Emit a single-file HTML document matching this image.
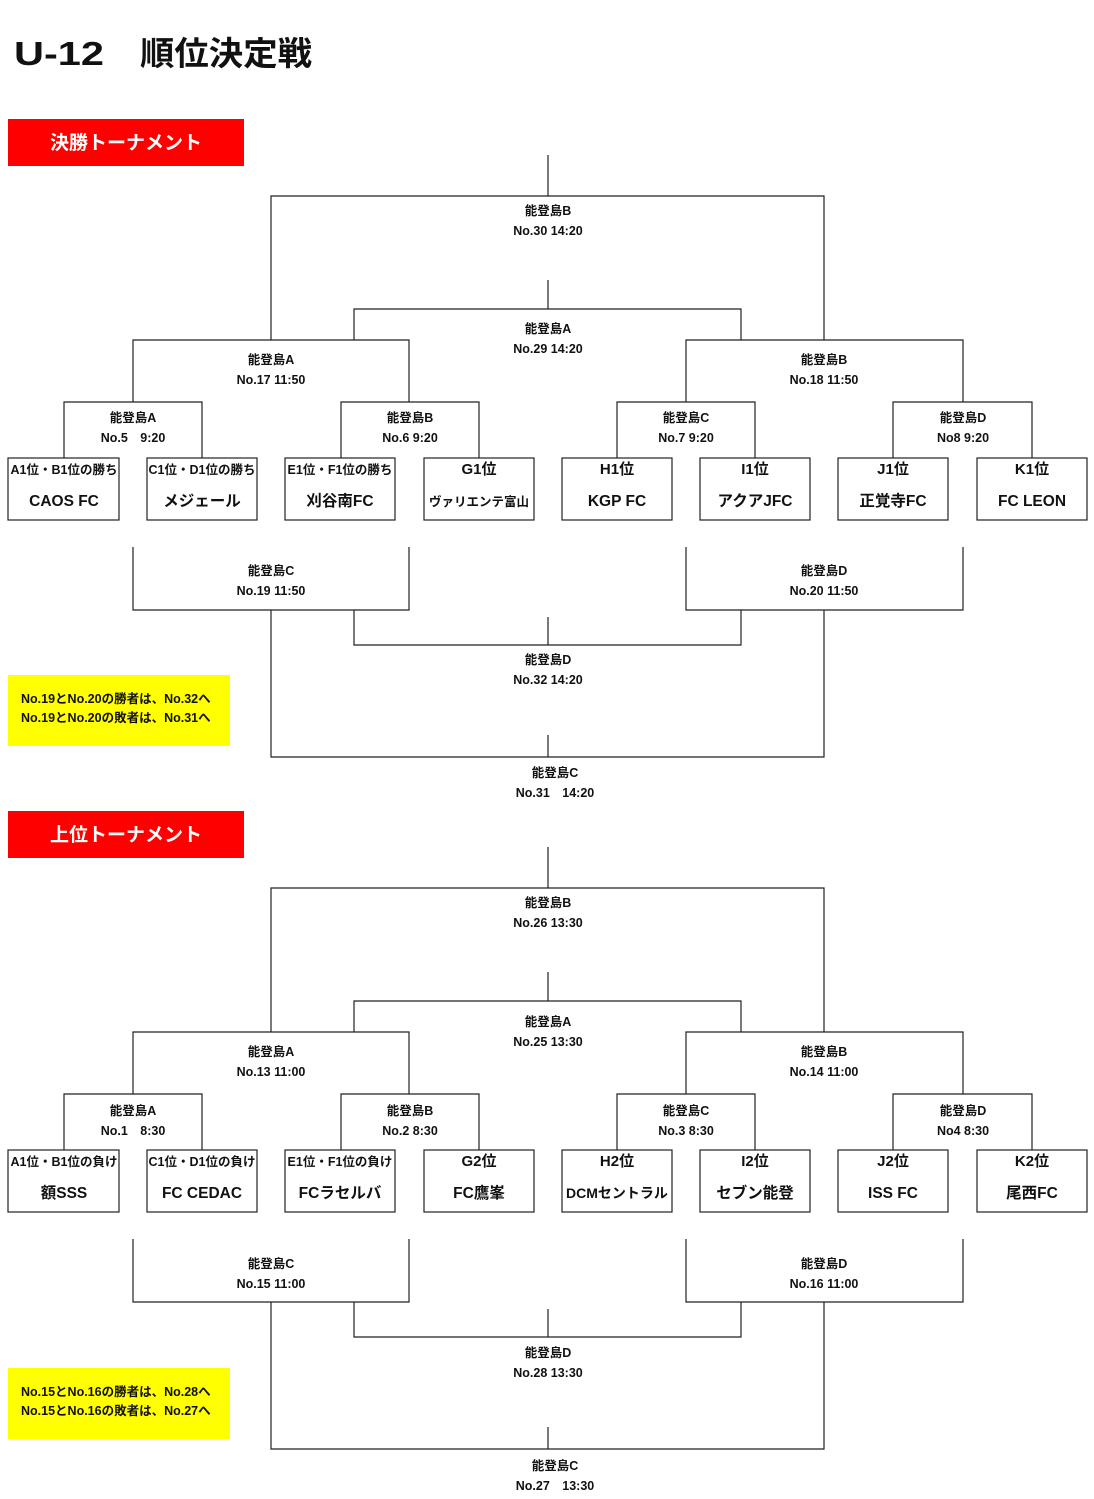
<!DOCTYPE html>
<html><head><meta charset="utf-8"><style>
body{margin:0;background:#fff;}
svg{display:block;font-family:"Liberation Sans","Noto Sans CJK JP",sans-serif;}
.l{stroke:#222;stroke-width:1.2;fill:none}
.t{font-size:12.5px;font-weight:bold;text-anchor:middle;fill:#111}
.h{font-size:15px;font-weight:bold;text-anchor:middle;fill:#111}
.s{font-size:12.5px;font-weight:bold;text-anchor:middle;fill:#111}
.n{font-size:15.5px;font-weight:bold;text-anchor:middle;fill:#111}
.y{font-size:12.5px;font-weight:bold;fill:#111}
</style></head><body>
<svg width="1094" height="1499" viewBox="0 0 1094 1499">
<text x="14" y="65" style="font-size:33px;font-weight:bold" fill="#111" textLength="90" lengthAdjust="spacingAndGlyphs">U-12</text>
<text x="140" y="65" style="font-size:33px;font-weight:bold" fill="#111" textLength="172" lengthAdjust="spacingAndGlyphs">順位決定戦</text>

<!-- Section 1 -->
<g>
<rect x="8" y="119" width="236" height="47" fill="#ff0000"/>
<text x="126" y="149" style="font-size:19px;font-weight:bold;text-anchor:middle" fill="#fff">決勝トーナメント</text>
<path class="l" d="M548 155V196 M271 340V196H824V340 M548 280V309 M354 340V309H741V340
M133 402V340H409V402 M686 402V340H963V402
M64 458V402H202V458 M341 458V402H479V458 M617 458V402H755V458 M893 458V402H1032V458
M133 547V610H409V547 M686 547V610H963V547 M271 610V757H824V610 M354 610V645H741V610 M548 617V645 M548 735V757"/>
<g class="l">
<rect x="8" y="458" width="111" height="62"/><rect x="147" y="458" width="110" height="62"/>
<rect x="285" y="458" width="110" height="62"/><rect x="424" y="458" width="110" height="62"/>
<rect x="562" y="458" width="110" height="62"/><rect x="700" y="458" width="110" height="62"/>
<rect x="838" y="458" width="110" height="62"/><rect x="977" y="458" width="110" height="62"/>
</g>
<text class="t" x="548" y="215">能登島B</text><text class="t" x="548" y="235">No.30 14:20</text>
<text class="t" x="548" y="333">能登島A</text><text class="t" x="548" y="353">No.29 14:20</text>
<text class="t" x="271" y="364">能登島A</text><text class="t" x="271" y="384">No.17 11:50</text>
<text class="t" x="824" y="364">能登島B</text><text class="t" x="824" y="384">No.18 11:50</text>
<text class="t" x="133" y="422">能登島A</text><text class="t" x="133" y="442">No.5　9:20</text>
<text class="t" x="410" y="422">能登島B</text><text class="t" x="410" y="442">No.6 9:20</text>
<text class="t" x="686" y="422">能登島C</text><text class="t" x="686" y="442">No.7 9:20</text>
<text class="t" x="963" y="422">能登島D</text><text class="t" x="963" y="442">No8 9:20</text>
<text class="s" x="64" y="474">A1位・B1位の勝ち</text><text class="n" x="64" y="506">CAOS FC</text>
<text class="s" x="202" y="474">C1位・D1位の勝ち</text><text class="n" x="202" y="506">メジェール</text>
<text class="s" x="340" y="474">E1位・F1位の勝ち</text><text class="n" x="340" y="506">刈谷南FC</text>
<text class="h" x="479" y="474">G1位</text><text class="s" x="479" y="506">ヴァリエンテ富山</text>
<text class="h" x="617" y="474">H1位</text><text class="n" x="617" y="506">KGP FC</text>
<text class="h" x="755" y="474">I1位</text><text class="n" x="755" y="506">アクアJFC</text>
<text class="h" x="893" y="474">J1位</text><text class="n" x="893" y="506">正覚寺FC</text>
<text class="h" x="1032" y="474">K1位</text><text class="n" x="1032" y="506">FC LEON</text>
<text class="t" x="271" y="575">能登島C</text><text class="t" x="271" y="595">No.19 11:50</text>
<text class="t" x="824" y="575">能登島D</text><text class="t" x="824" y="595">No.20 11:50</text>
<text class="t" x="548" y="664">能登島D</text><text class="t" x="548" y="684">No.32 14:20</text>
<text class="t" x="555" y="777">能登島C</text><text class="t" x="555" y="797">No.31　14:20</text>
<rect x="8" y="675" width="222" height="71" fill="#ffff00"/>
<text class="y" x="21" y="703">No.19とNo.20の勝者は、No.32へ</text>
<text class="y" x="21" y="722">No.19とNo.20の敗者は、No.31へ</text>
</g>

<!-- Section 2 -->
<g transform="translate(0,692)">
<rect x="8" y="119" width="236" height="47" fill="#ff0000"/>
<text x="126" y="149" style="font-size:19px;font-weight:bold;text-anchor:middle" fill="#fff">上位トーナメント</text>
<path class="l" d="M548 155V196 M271 340V196H824V340 M548 280V309 M354 340V309H741V340
M133 402V340H409V402 M686 402V340H963V402
M64 458V402H202V458 M341 458V402H479V458 M617 458V402H755V458 M893 458V402H1032V458
M133 547V610H409V547 M686 547V610H963V547 M271 610V757H824V610 M354 610V645H741V610 M548 617V645 M548 735V757"/>
<g class="l">
<rect x="8" y="458" width="111" height="62"/><rect x="147" y="458" width="110" height="62"/>
<rect x="285" y="458" width="110" height="62"/><rect x="424" y="458" width="110" height="62"/>
<rect x="562" y="458" width="110" height="62"/><rect x="700" y="458" width="110" height="62"/>
<rect x="838" y="458" width="110" height="62"/><rect x="977" y="458" width="110" height="62"/>
</g>
<text class="t" x="548" y="215">能登島B</text><text class="t" x="548" y="235">No.26 13:30</text>
<text class="t" x="548" y="334">能登島A</text><text class="t" x="548" y="354">No.25 13:30</text>
<text class="t" x="271" y="364">能登島A</text><text class="t" x="271" y="384">No.13 11:00</text>
<text class="t" x="824" y="364">能登島B</text><text class="t" x="824" y="384">No.14 11:00</text>
<text class="t" x="133" y="423">能登島A</text><text class="t" x="133" y="443">No.1　8:30</text>
<text class="t" x="410" y="423">能登島B</text><text class="t" x="410" y="443">No.2 8:30</text>
<text class="t" x="686" y="423">能登島C</text><text class="t" x="686" y="443">No.3 8:30</text>
<text class="t" x="963" y="423">能登島D</text><text class="t" x="963" y="443">No4 8:30</text>
<text class="s" x="64" y="474">A1位・B1位の負け</text><text class="n" x="64" y="506">額SSS</text>
<text class="s" x="202" y="474">C1位・D1位の負け</text><text class="n" x="202" y="506">FC CEDAC</text>
<text class="s" x="340" y="474">E1位・F1位の負け</text><text class="n" x="340" y="506">FCラセルバ</text>
<text class="h" x="479" y="474">G2位</text><text class="n" x="479" y="506">FC鷹峯</text>
<text class="h" x="617" y="474">H2位</text><text class="n" x="617" y="506" style="font-size:14px">DCMセントラル</text>
<text class="h" x="755" y="474">I2位</text><text class="n" x="755" y="506">セブン能登</text>
<text class="h" x="893" y="474">J2位</text><text class="n" x="893" y="506">ISS FC</text>
<text class="h" x="1032" y="474">K2位</text><text class="n" x="1032" y="506">尾西FC</text>
<text class="t" x="271" y="576">能登島C</text><text class="t" x="271" y="596">No.15 11:00</text>
<text class="t" x="824" y="576">能登島D</text><text class="t" x="824" y="596">No.16 11:00</text>
<text class="t" x="548" y="665">能登島D</text><text class="t" x="548" y="685">No.28 13:30</text>
<text class="t" x="555" y="778">能登島C</text><text class="t" x="555" y="798">No.27　13:30</text>
<rect x="8" y="676" width="222" height="71" fill="#ffff00"/>
<text class="y" x="21" y="704">No.15とNo.16の勝者は、No.28へ</text>
<text class="y" x="21" y="723">No.15とNo.16の敗者は、No.27へ</text>
</g>
</svg>
</body></html>
